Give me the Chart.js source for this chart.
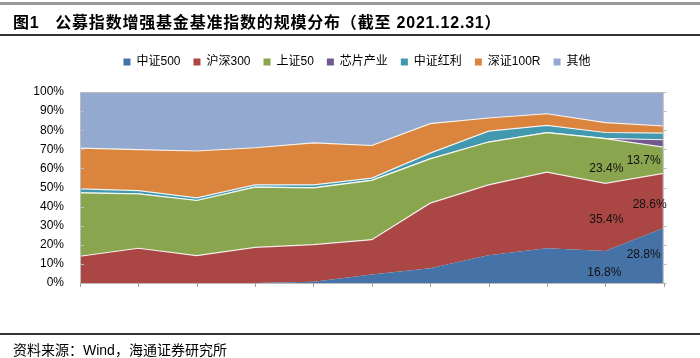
<!DOCTYPE html>
<html>
<head>
<meta charset="utf-8">
<script src="https://cdn.jsdelivr.net/npm/chart.js@4/dist/chart.umd.min.js"></script>
<style>
  body { margin: 0; width: 700px; height: 358px; background: #fff; position: relative; overflow: hidden;
         font-family: "Liberation Sans", "Noto Sans CJK SC", sans-serif; color: #000; }
  .topbar { position: absolute; left: 0; top: 2px; width: 700px; height: 3px; background: #9a9a9a; }
  .title { position: absolute; left: 13px; top: 9px; font-size: 16px; font-weight: bold; letter-spacing: 0.8px; white-space: nowrap; }
  .rule { position: absolute; left: 0; width: 700px; height: 2px; background: #333; }
  .source { position: absolute; left: 13px; top: 339px; font-size: 14px; white-space: nowrap; }
  #wrap { position: absolute; left: 0; top: 0; width: 700px; height: 358px; }
</style>
</head>
<body>
<div id="wrap"><canvas id="chart"></canvas></div>
<div class="topbar"></div>
<div class="title">图1&nbsp;&nbsp;&nbsp;公募指数增强基金基准指数的规模分布（截至 2021.12.31）</div>
<div class="rule" style="top:34px"></div>
<div class="rule" style="top:333px"></div>
<div class="source">资料来源：Wind，海通证券研究所</div>

<script>
// categories
const years = ['2011', '2012', '2013', '2014', '2015', '2016', '2017', '2018', '2019', '2020', '2021'];

// share of each benchmark index (%), bottom to top
const zz500  = [0, 0, 0, 0, 0.7, 4.4, 7.7, 14.5, 18.2, 16.8, 28.8];
const hs300  = [14.0, 18.2, 14.3, 18.7, 19.4, 18.3, 34.1, 36.9, 39.8, 35.4, 28.6];
const sz50   = [33.2, 28.5, 28.9, 31.5, 29.7, 31.0, 23.2, 22.4, 20.7, 23.4, 13.7];
const chip   = [0, 0, 0, 0, 0, 0, 0, 0, 0, 0.1, 3.9];
const divid  = [2.1, 1.7, 1.4, 1.2, 1.6, 1.2, 3.0, 5.7, 3.8, 3.1, 3.5];
const sz100r = [21.3, 21.4, 24.5, 19.4, 22.0, 17.1, 15.4, 6.9, 6.1, 5.2, 3.7];
const other  = [29.4, 30.2, 30.9, 29.2, 26.6, 28.0, 16.6, 13.6, 11.4, 16.1, 17.8];

// y axis ticks
const yTicks = [0, 10, 20, 30, 40, 50, 60, 70, 80, 90, 100];

const seriesNames  = ['中证500', '沪深300', '上证50', '芯片产业', '中证红利', '深证100R', '其他'];
const seriesValues = [zz500, hs300, sz50, chip, divid, sz100r, other];
const colors = ['#4572A7', '#AA4643', '#89A54E', '#71588F', '#4198AF', '#DB843D', '#93A9CF'];

// which points get a value label (dataset, point, nudge)
const valueLabels = [
  { ds: 0, i: 9, dx: -1, dy: 6 },
  { ds: 0, i: 10, dx: -20, dy: -1 },
  { ds: 1, i: 9, dx: 1, dy: 3 },
  { ds: 1, i: 10, dx: -14, dy: 4 },
  { ds: 2, i: 9, dx: 1, dy: 8 },
  { ds: 2, i: 10, dx: -20, dy: 0 }
];

const FONT = '"Liberation Sans", "Noto Sans CJK SC", sans-serif';

// frame, tick marks and value labels
const extras = {
  id: 'extras',
  afterLayout(chart) {
    // legend sits a little right of centre in the original
    chart.legend.left += 50;
  },
  afterDatasetsDraw(chart) {
    const ctx = chart.ctx;
    const a = chart.chartArea;
    const ys = chart.scales.y;
    const xs = chart.scales.x;
    ctx.save();
    ctx.strokeStyle = '#bdbdbd';
    ctx.lineWidth = 1;
    ctx.strokeRect(a.left + 0.5, a.top + 0.5, a.right - a.left - 1, a.bottom - a.top);
    yTicks.forEach(v => {
      const py = Math.round(ys.getPixelForValue(v)) + 0.5;
      ctx.beginPath();
      ctx.moveTo(a.left, py); ctx.lineTo(a.left + 4, py);
      ctx.moveTo(a.right - 1, py); ctx.lineTo(a.right + 3, py);
      ctx.stroke();
    });
    ctx.strokeStyle = '#a0a0a0';
    years.forEach((y, i) => {
      const px = Math.round(xs.getPixelForValue(i)) + 0.5;
      ctx.beginPath();
      ctx.moveTo(px, a.bottom); ctx.lineTo(px, a.bottom + 4);
      ctx.stroke();
    });

    ctx.fillStyle = '#111';
    ctx.font = '12px ' + FONT;
    ctx.textAlign = 'center';
    ctx.textBaseline = 'middle';
    valueLabels.forEach(l => {
      let base = 0;
      for (let k = 0; k < l.ds; k++) base += seriesValues[k][l.i];
      const v = seriesValues[l.ds][l.i];
      const px = xs.getPixelForValue(l.i) + l.dx;
      const py = ys.getPixelForValue(base + v / 2) + l.dy;
      ctx.fillText(v.toFixed(1) + '%', px, py);
    });
    ctx.restore();
  }
};

// extra room below the legend
const legendGap = {
  id: 'legendGap',
  beforeInit(chart) {
    const fit = chart.legend.fit;
    chart.legend.fit = function() {
      fit.bind(chart.legend)();
      this.height += 14;
    };
  }
};

new Chart(document.getElementById('chart'), {
  type: 'line',
  data: {
    labels: years,
    datasets: seriesNames.map((name, k) => ({
      label: name,
      data: seriesValues[k],
      backgroundColor: colors[k],
      borderColor: k === 0 ? colors[0] : 'rgba(255,255,255,0.85)',
      borderWidth: k === 0 ? 0 : 1.2,
      fill: k === 0 ? 'origin' : '-1',
      pointRadius: 0,
      tension: 0
    }))
  },
  options: {
    responsive: true,
    maintainAspectRatio: false,
    animation: false,
    layout: { padding: { top: 43, left: 0, right: 36, bottom: 50 } },
    plugins: {
      tooltip: { enabled: false },
      legend: {
        position: 'top',
        labels: {
          boxWidth: 7,
          boxHeight: 7,
          padding: 13,
          color: '#000',
          font: { size: 12, family: FONT },
          generateLabels(chart) {
            return chart.data.datasets.map((d, i) => ({
              text: d.label,
              fillStyle: colors[i],
              strokeStyle: colors[i],
              lineWidth: 0,
              datasetIndex: i
            }));
          }
        }
      }
    },
    scales: {
      x: {
        offset: false,
        grid: { display: false },
        border: { display: false },
        afterFit(scale) { scale.height = 25; },
        ticks: {
          autoSkip: false,
          maxRotation: 0,
          padding: 23,
          color: '#000',
          font: { size: 12, family: FONT }
        }
      },
      y: {
        stacked: true,
        min: 0,
        max: 100,
        grid: { display: false },
        border: { display: false },
        afterFit(scale) { scale.width = 80; },
        ticks: {
          stepSize: 10,
          padding: 8,
          color: '#000',
          font: { size: 12, family: FONT },
          callback: v => v + '%'
        }
      }
    }
  },
  plugins: [extras, legendGap]
});
</script>
</body>
</html>
